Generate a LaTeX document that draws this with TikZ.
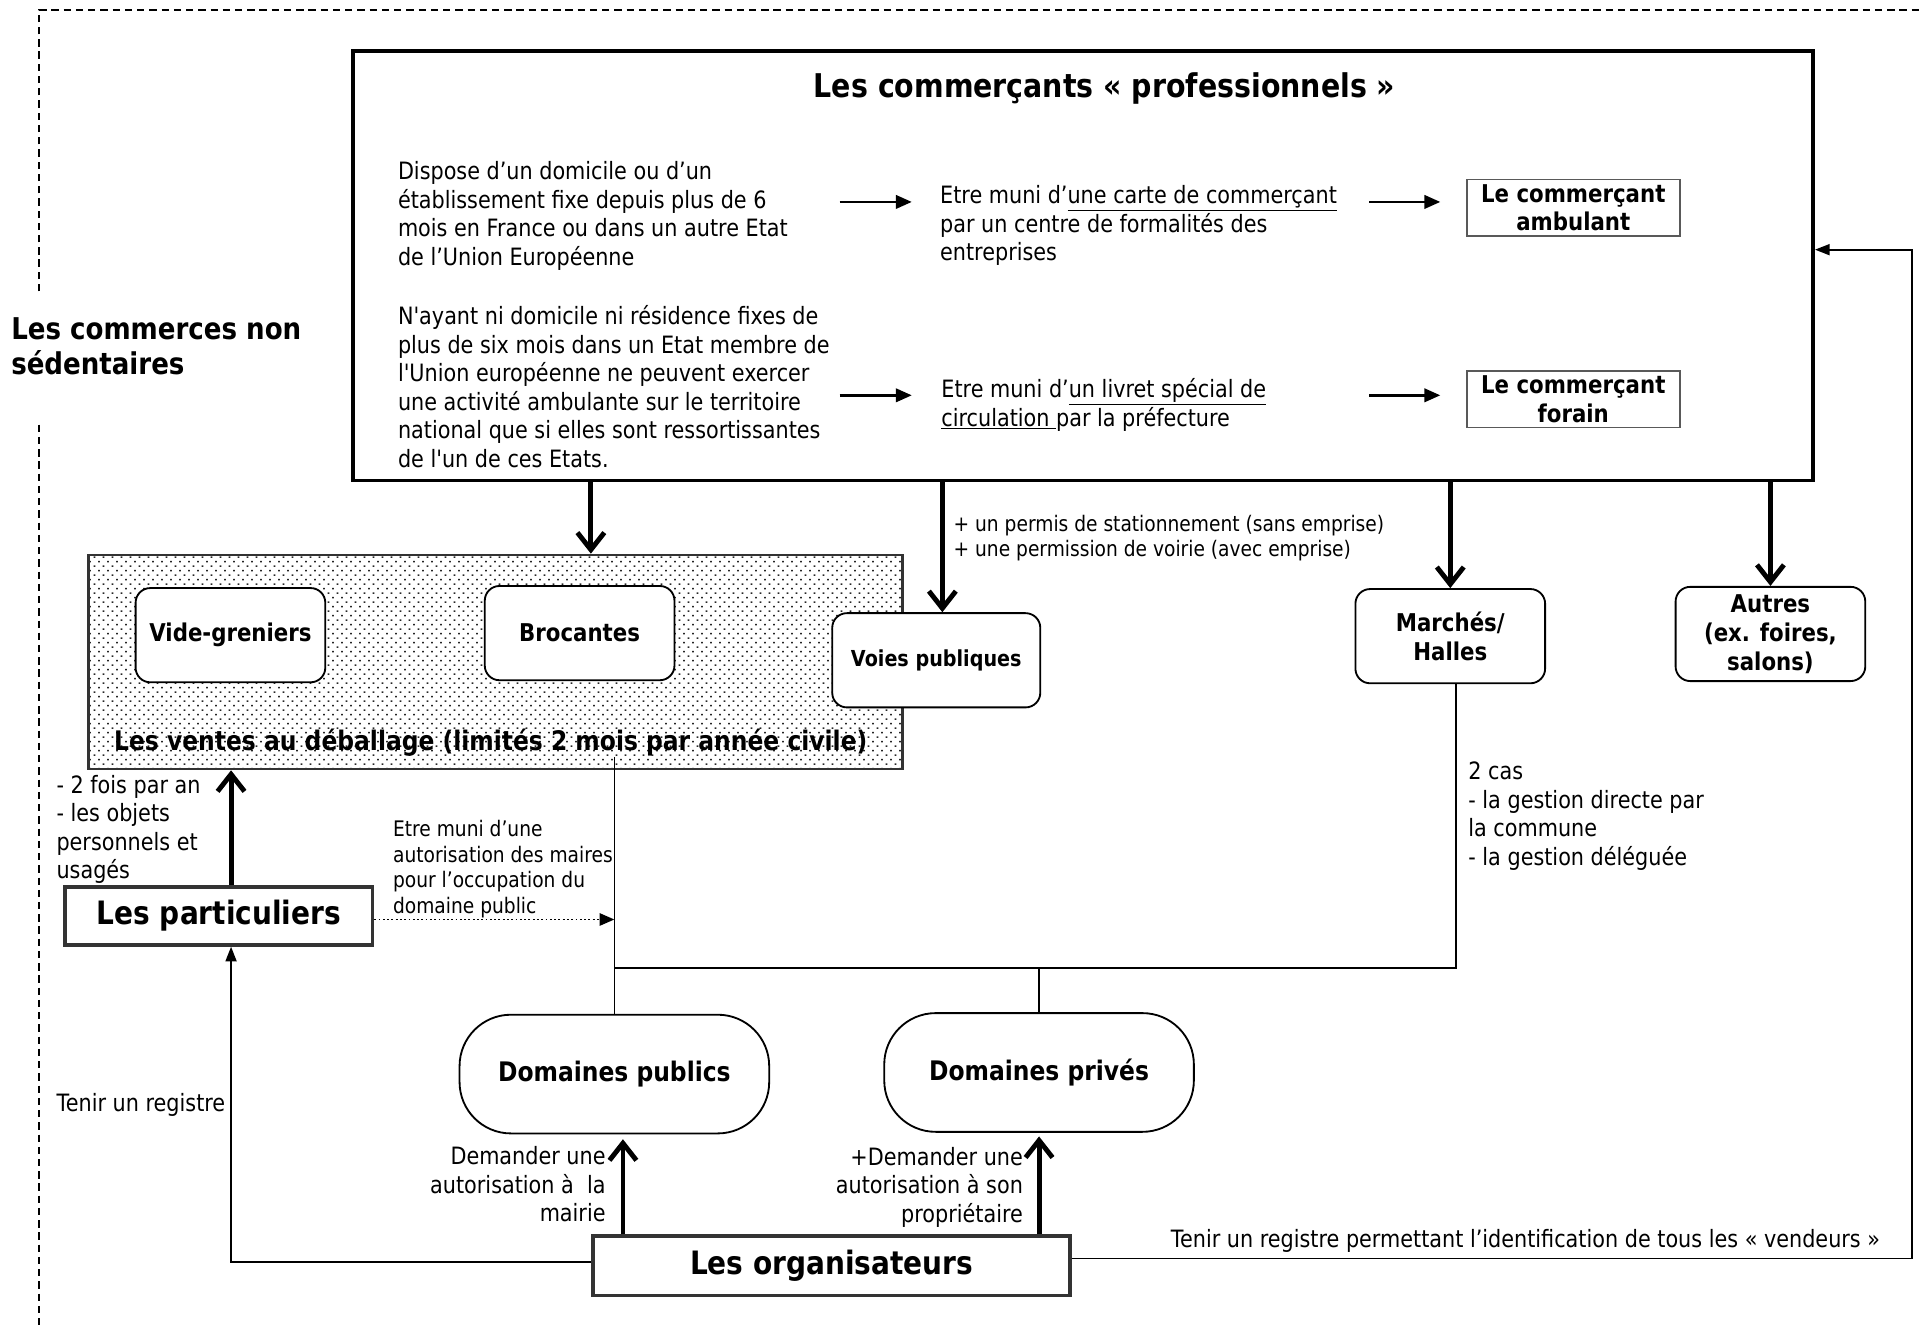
\documentclass[tikz,border=0pt]{standalone}
\usepackage{fontspec}
\setmainfont{DejaVu Sans}[FakeStretch=0.87, Ligatures=TeXOff]
\usetikzlibrary{arrows.meta, positioning, patterns.meta}

\begin{document}
\begin{tikzpicture}[
    x=1pt, y=-1pt,
    txt/.style      ={inner sep=0pt, align=left, font=\fontsize{19.5}{23.3}\selectfont},
    petit/.style    ={inner sep=0pt, align=left, font=\fontsize{17.5}{21}\selectfont},
    grand/.style    ={inner sep=0pt, align=left, font=\bfseries\fontsize{24.5}{29}\selectfont},
    boitepro/.style ={rectangle, draw, line width=3pt, minimum width=1193pt, minimum height=351pt},
    statut/.style   ={rectangle, draw=black!65, line width=1.3pt, minimum width=174pt, minimum height=46pt,
                      align=center, inner sep=1pt, font=\bfseries\fontsize{20}{23.3}\selectfont},
    lieu/.style     ={rectangle, rounded corners=12pt, draw, line width=1.5pt, fill=white,
                      minimum width=155pt, minimum height=77pt, align=center, inner sep=2pt,
                      font=\bfseries\fontsize{20}{23.5}\selectfont},
    deballage/.style={rectangle, draw=black!80, line width=2pt, pattern color=black!85,
                      pattern={Dots[distance=5.2pt, angle=45, radius=0.9pt]},
                      minimum width=665pt, minimum height=175pt},
    acteur/.style   ={rectangle, draw=black!80, line width=3pt, font=\bfseries\fontsize{26.3}{30}\selectfont},
    domaine/.style  ={rectangle, rounded corners=42pt, draw, line width=1.5pt,
                      minimum width=253pt, minimum height=97pt, font=\bfseries\fontsize{22}{26}\selectfont},
    fleche/.style   ={line width=4pt, -{Straight Barb[length=14pt, width=22pt]}},
    fin/.style      ={line width=2pt, -{Triangle[length=13pt, width=11pt]}},
    lien/.style     ={line width=1.2pt},
    reg/.style      ={line width=1.5pt, -{Triangle[length=12pt, width=9pt]}},
    cadre/.style    ={line width=1.2pt, dash pattern=on 6pt off 4pt},
]
\useasboundingbox (0,0) rectangle (1568,1084);

% ---- Cadre general ----
\node[grand, anchor=north west] (cns) at (9,259) {Les commerces non\\sédentaires};
\draw[cadre] (32,238) -- (32,8) -- (1568,8);
\draw[cadre] (32,347) -- (32,1084);

% ---- Commercants professionnels ----
\node[boitepro] (pro) at (885,217) {};
\node[inner sep=0pt, font=\bfseries\fontsize{26.7}{30}\selectfont] (titre) at (902.5,72)
   {Les commerçants « professionnels »};
\node[txt, anchor=north west] (dom) at (325,132)
   {Dispose d’un domicile ou d’un\\établissement fixe depuis plus de 6\\mois en France ou dans un autre Etat\\de l’Union Européenne};
\node[txt, anchor=north west] (nodom) at (325,249.4)
   {N'ayant ni domicile ni résidence fixes de\\plus de six mois dans un Etat membre de\\l'Union européenne ne peuvent exercer\\une activité ambulante sur le territoire\\national que si elles sont ressortissantes\\de l'un de ces Etats.};
\node[txt, anchor=north west] (carte) at (768,151.3)
   {Etre muni d’\underline{une carte de commerçant}\\par un centre de formalités des\\entreprises};
\node[txt, anchor=north west] (livret) at (769,309)
   {Etre muni d’\underline{un livret spécial de}\\\underline{circulation }par la préfecture};
\node[statut] (amb)    at (1285.5,169.8) {Le commerçant\\ambulant};
\node[statut] (forain) at (1285.5,326.3) {Le commerçant\\forain};

\coordinate (rang1) at (0,165);
\coordinate (rang2) at (0,323);
\draw[fin] ([xshift=-82pt]carte.west |- rang1)  -- ([xshift=-23pt]carte.west |- rang1);
\draw[fin] ([xshift=-83pt]livret.west |- rang2) -- ([xshift=-24pt]livret.west |- rang2);
\draw[fin] ([xshift=-79pt]amb.west |- rang1)    -- ([xshift=-21pt]amb.west |- rang1);
\draw[fin] ([xshift=-79pt]forain.west |- rang2) -- ([xshift=-21pt]forain.west |- rang2);

% ---- Lieux de vente ----
\node[deballage] (deb) at (404.8,540.9) {};
\node[lieu] (vide)    at (188.3,519)   {Vide-greniers};
\node[lieu] (broc)    at (473.6,517.3) {Brocantes};
\node[lieu, minimum width=170pt, font=\bfseries\fontsize{18}{22}\selectfont] (voies) at (765,539.5) {Voies publiques};
\node[lieu] (marches) at (1185,519.8)  {Marchés/\\Halles};
\node[lieu] (autres)  at (1446.6,518)  {Autres\\(ex. foires,\\salons)};
\node[inner sep=0pt, font=\bfseries\fontsize{22}{26}\selectfont] (debtxt) at (401,607)
   {Les ventes au déballage (limités 2 mois par année civile)};
\node[petit, anchor=north west] (permis) at (779,420.5)
   {+ un permis de stationnement (sans emprise)\\+ une permission de voirie (avec emprise)};

% ---- Acteurs ----
\node[acteur, minimum width=251pt, minimum height=47.5pt] (part) at (178.8,748.3) {Les particuliers};
\node[domaine] (dpub)  at (502,877.6) {Domaines publics};
\node[domaine] (dpriv) at (849,876.3) {Domaines privés};
\node[acteur, minimum width=390pt, minimum height=48.5pt] (org) at (679.5,1034.3) {Les organisateurs};

\node[txt, anchor=north west] (usages) at (46,633)
   {- 2 fois par an\\- les objets\\personnels et\\usagés};
\node[petit, anchor=north west] (autor) at (321,670)
   {Etre muni d’une\\autorisation des maires\\pour l’occupation du\\domaine public};
\node[txt, anchor=north west] (cas) at (1199.6,622.6)
   {2 cas\\- la gestion directe par\\la commune\\- la gestion déléguée};
\node[txt, align=right, anchor=north east] (mairie) at (495,936.5)
   {Demander une\\autorisation à\ \ la\\mairie};
\node[txt, align=right, anchor=north east] (proprio) at (836,937)
   {+Demander une\\autorisation à son\\propriétaire};

% ---- Fleches ----
\draw[fleche] ([xshift=78pt]deb.north |- pro.south) -- ([xshift=78pt]deb.north);
\draw[fleche] ([xshift=5pt]voies.north |- pro.south) -- ([xshift=5pt]voies.north);
\draw[fleche] (marches.north |- pro.south) -- (marches.north);
\draw[fleche] (autres.north |- pro.south) -- (autres.north);
\draw[fleche] ([xshift=10pt]part.north) -- ([xshift=10pt]part.north |- deb.south);
\draw[fleche, shorten >=4pt] ([xshift=7pt]dpub.south |- org.north) -- ([xshift=7pt]dpub.south);
\draw[fleche, shorten >=3pt] (dpriv.south |- org.north) -- (dpriv.south);

\draw[line width=1.5pt, dotted, -{Triangle[length=12pt, width=10pt]}]
   ([yshift=-3pt]part.east) -- ([yshift=-3pt]part.east -| dpub.north);

% ---- Liaisons ----
\coordinate (bus) at (0,791);
\draw[lien] (debtxt.south -| dpub.north) -- (dpub.north);
\draw[lien] (dpub.north |- bus) -- ([xshift=4.6pt]marches.south |- bus) -- ([xshift=4.6pt]marches.south);
\draw[lien] (dpriv.north) -- (dpriv.north |- bus);

% ---- Registres ----
\draw[reg] ([yshift=3pt]org.west) -| node[txt, pos=0.75, left=4pt] (tenir) {Tenir un registre}
   ([xshift=10pt]part.south);
\coordinate (retour) at (1562,204);
\draw[reg] ([yshift=6pt]org.east) -| node[txt, pos=0.27, above=4pt] (vendeurs)
   {Tenir un registre permettant l’identification de tous les « vendeurs »}
   (retour) -- (pro.east |- retour);

\end{tikzpicture}
\end{document}
